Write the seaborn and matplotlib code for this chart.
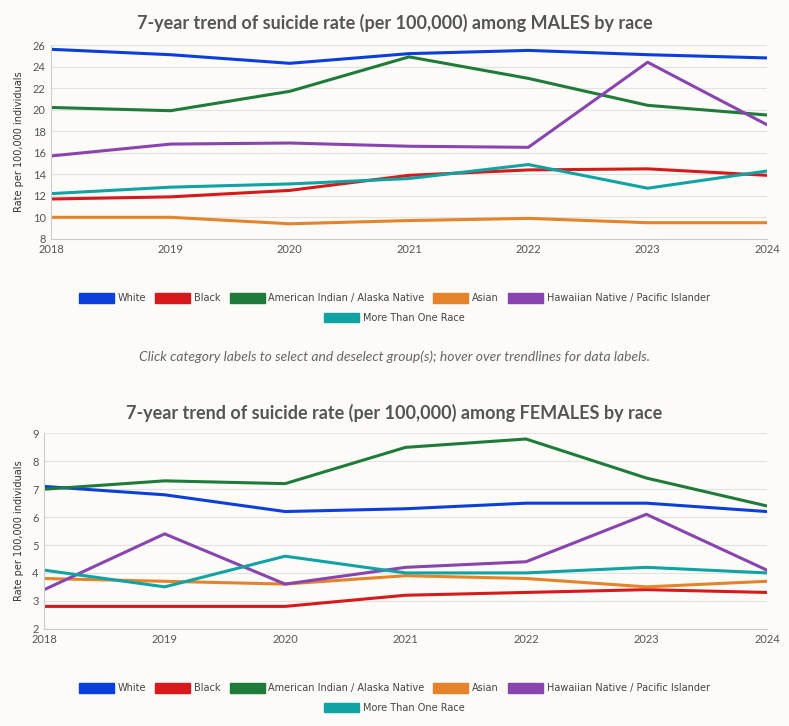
import pandas as pd
import matplotlib
matplotlib.use("Agg")
import matplotlib.pyplot as plt
import seaborn as sns
from matplotlib.patches import Patch

sns.set_style("whitegrid")
plt.rcParams['font.family'] = ['Lato', 'DejaVu Sans']

years = [2018, 2019, 2020, 2021, 2022, 2023, 2024]
groups = ["White", "Black", "American Indian / Alaska Native", "Asian",
          "Hawaiian Native / Pacific Islander", "More Than One Race"]
colors = ["#0a3fdc", "#d7191c", "#1e7b3a", "#e6832a", "#8a44b0", "#10a3a3"]

male_white = [25.6, 25.1, 24.3, 25.2, 25.5, 25.1, 24.8]
male_black = [11.7, 11.9, 12.5, 13.9, 14.4, 14.5, 13.9]
male_aian = [20.2, 19.9, 21.7, 24.9, 22.9, 20.4, 19.5]
male_asian = [10.0, 10.0, 9.4, 9.7, 9.9, 9.5, 9.5]
male_nhpi = [15.7, 16.8, 16.9, 16.6, 16.5, 24.4, 18.6]
male_multi = [12.2, 12.8, 13.1, 13.6, 14.9, 12.7, 14.3]

female_white = [7.1, 6.8, 6.2, 6.3, 6.5, 6.5, 6.2]
female_black = [2.8, 2.8, 2.8, 3.2, 3.3, 3.4, 3.3]
female_aian = [7.0, 7.3, 7.2, 8.5, 8.8, 7.4, 6.4]
female_asian = [3.8, 3.7, 3.6, 3.9, 3.8, 3.5, 3.7]
female_nhpi = [3.4, 5.4, 3.6, 4.2, 4.4, 6.1, 4.1]
female_multi = [4.1, 3.5, 4.6, 4.0, 4.0, 4.2, 4.0]

bg = "#fcfbf8"
grey = "#555555"


def make_df(series):
    rows = []
    for g, vals in zip(groups, series):
        for y, v in zip(years, vals):
            rows.append({"year": y, "group": g, "rate": v})
    return pd.DataFrame(rows)


def draw(ax, df, ylim, yticks):
    ax.set_facecolor(bg)
    sns.lineplot(data=df, x="year", y="rate", hue="group", hue_order=groups,
                 palette=colors, linewidth=2.2, ax=ax, legend=False)
    ax.set_xlim(2018, 2024)
    ax.set_ylim(*ylim)
    ax.set_yticks(yticks)
    ax.set_xticks(years)
    ax.set_xlabel("")
    ax.set_ylabel("Rate per 100,000 individuals", fontsize=7, color="#333333",
                  family=["DejaVu Sans"], labelpad=6)
    ax.grid(axis="x", visible=False)
    ax.grid(axis="y", color="#e2e2e2", linewidth=0.8)
    for s in ["top", "right"]:
        ax.spines[s].set_visible(False)
    ax.spines["left"].set_color("#cccccc")
    ax.spines["bottom"].set_color("#cccccc")
    ax.tick_params(axis="both", labelsize=8, colors=grey, length=0, pad=4)


def add_legend(fig, y):
    handles = [Patch(facecolor=c, edgecolor=c) for c in colors]
    kw = dict(frameon=False, handlelength=3.6, handleheight=1.1,
              handletextpad=0.4, columnspacing=0.9, labelcolor="#444444",
              prop={"family": "DejaVu Sans", "size": 7})
    fig.legend(handles[:5], groups[:5], loc="center", ncol=5,
               bbox_to_anchor=(0.5, y), **kw)
    fig.legend(handles[5:], groups[5:], loc="center", ncol=1,
               bbox_to_anchor=(0.5, y - 0.027), **kw)


fig = plt.figure(figsize=(7.89, 7.26), dpi=100, facecolor=bg)

ax1 = fig.add_axes([0.065, 0.671, 0.907, 0.267])
draw(ax1, make_df([male_white, male_black, male_aian, male_asian, male_nhpi, male_multi]),
     (8, 26), range(8, 27, 2))
ax2 = fig.add_axes([0.056, 0.134, 0.916, 0.269])
draw(ax2, make_df([female_white, female_black, female_aian, female_asian, female_nhpi, female_multi]),
     (2, 9), range(2, 10))

fig.text(0.5, 0.968, "7-year trend of suicide rate (per 100,000) among MALES by race",
         ha="center", va="center", fontsize=13, fontweight="bold", color=grey)
fig.text(0.5, 0.431, "7-year trend of suicide rate (per 100,000) among FEMALES by race",
         ha="center", va="center", fontsize=13, fontweight="bold", color=grey)
fig.text(0.5, 0.509, "Click category labels to select and deselect group(s); hover over trendlines for data labels.",
         ha="center", va="center", fontsize=10, style="italic", color="#666666")

add_legend(fig, 0.589)
add_legend(fig, 0.052)

fig.savefig("out.png", dpi=100, facecolor=bg)
